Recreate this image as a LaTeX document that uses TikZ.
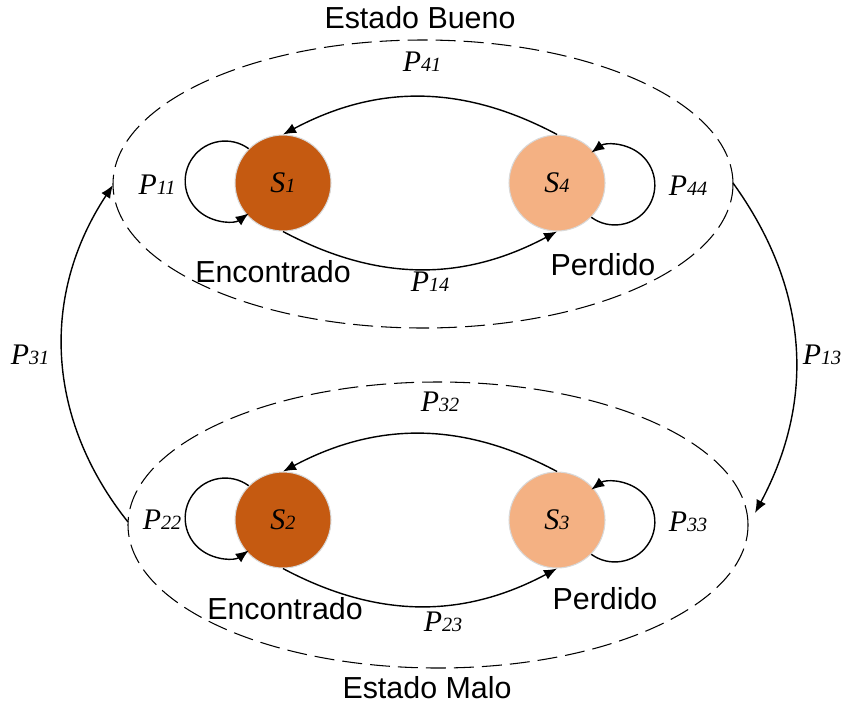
\documentclass[tikz,border=0pt]{standalone}
\usepackage{fontspec}
\setmainfont{Liberation Serif}
\setsansfont{Liberation Sans}
\usetikzlibrary{arrows.meta}
\definecolor{oscuro}{HTML}{C55A11}
\definecolor{claro}{HTML}{F4B183}
\def\prob#1#2{\textit{#1}{\fontsize{11.5}{13}\selectfont\textit{#2}}}
\tikzset{
	estado/.style={circle,minimum size=1.92cm,inner sep=0pt,draw=black!15,line width=0.6pt,font=\fontsize{17}{20}\selectfont},
	etiq/.style={font=\fontsize{17}{20}\selectfont},
	texto/.style={font=\sffamily\fontsize{17.3}{20}\selectfont},
	flecha/.style={line width=0.8pt,-{Latex[length=2.6mm,width=2.1mm]}},
	zona/.style={line width=0.6pt,dash pattern=on 0.4cm off 0.16cm},
}

\begin{document}
\begin{tikzpicture}
		%%%%% START %%%%%
		\useasboundingbox (0,0) rectangle (16.9,14.1);
		
		\draw[zona] (8.46,10.42) ellipse [x radius=6.2, y radius=2.88];
		\draw[zona] (8.76,3.60) ellipse [x radius=6.2, y radius=2.86];
		\node[texto] (bueno) at (8.40,13.74) {Estado Bueno};
		\node[texto] (malo) at (8.54,0.34) {Estado Malo};
		
		\coordinate (bw) at (2.26,10.40);
		\coordinate (be) at (14.66,10.44);
		\coordinate (mw) at (2.56,3.66);
		\coordinate (me) at (15.10,3.84);
		
		\node[estado,fill=oscuro] (s1) at (5.66,10.44) {\prob{S}{1}};
		\node[estado,fill=claro] (s4) at (11.14,10.44) {\prob{S}{4}};
		\node[estado,fill=oscuro] (s2) at (5.66,3.70) {\prob{S}{2}};
		\node[estado,fill=claro] (s3) at (11.14,3.70) {\prob{S}{3}};
		
		\node[texto] (enc1) at (5.46,8.66) {Encontrado};
		\node[texto] (per1) at (12.06,8.80) {Perdido};
		\node[texto] (enc2) at (5.70,1.92) {Encontrado};
		\node[texto] (per2) at (12.10,2.12) {Perdido};
		
		% estado bueno
		\draw[flecha] (s1.135) arc[start angle=54,end angle=306,radius=0.8];
		\draw[flecha] (s4.-45) arc[start angle=234,end angle=486,radius=0.8];
		\draw[flecha] (s4.north) to[bend right=28] (s1.north);
		\draw[flecha] (s1.south) to[bend right=28] (s4.south);
		\node[etiq] (p11) at (3.14,10.40) {\prob{P}{11}};
		\node[etiq] (p44) at (13.76,10.38) {\prob{P}{44}};
		\node[etiq] (p41) at (8.44,12.86) {\prob{P}{41}};
		\node[etiq] (p14) at (8.60,8.46) {\prob{P}{14}};
		
		% estado malo
		\draw[flecha] (s2.135) arc[start angle=54,end angle=306,radius=0.8];
		\draw[flecha] (s3.-45) arc[start angle=234,end angle=486,radius=0.8];
		\draw[flecha] (s3.north) to[bend right=28] (s2.north);
		\draw[flecha] (s2.south) to[bend right=28] (s3.south);
		\node[etiq] (p22) at (3.24,3.70) {\prob{P}{22}};
		\node[etiq] (p33) at (13.76,3.66) {\prob{P}{33}};
		\node[etiq] (p32) at (8.80,6.06) {\prob{P}{32}};
		\node[etiq] (p23) at (8.86,1.66) {\prob{P}{23}};
		
		% entre estados
		\draw[flecha] (mw) to[bend left=36] (bw);
		\draw[flecha] (be) to[bend left=32] (me);
		\node[etiq] (p31) at (0.60,7.00) {\prob{P}{31}};
		\node[etiq] (p13) at (16.44,7.00) {\prob{P}{13}};
		%%%%% END %%%%%
	\end{tikzpicture}
\end{document}
